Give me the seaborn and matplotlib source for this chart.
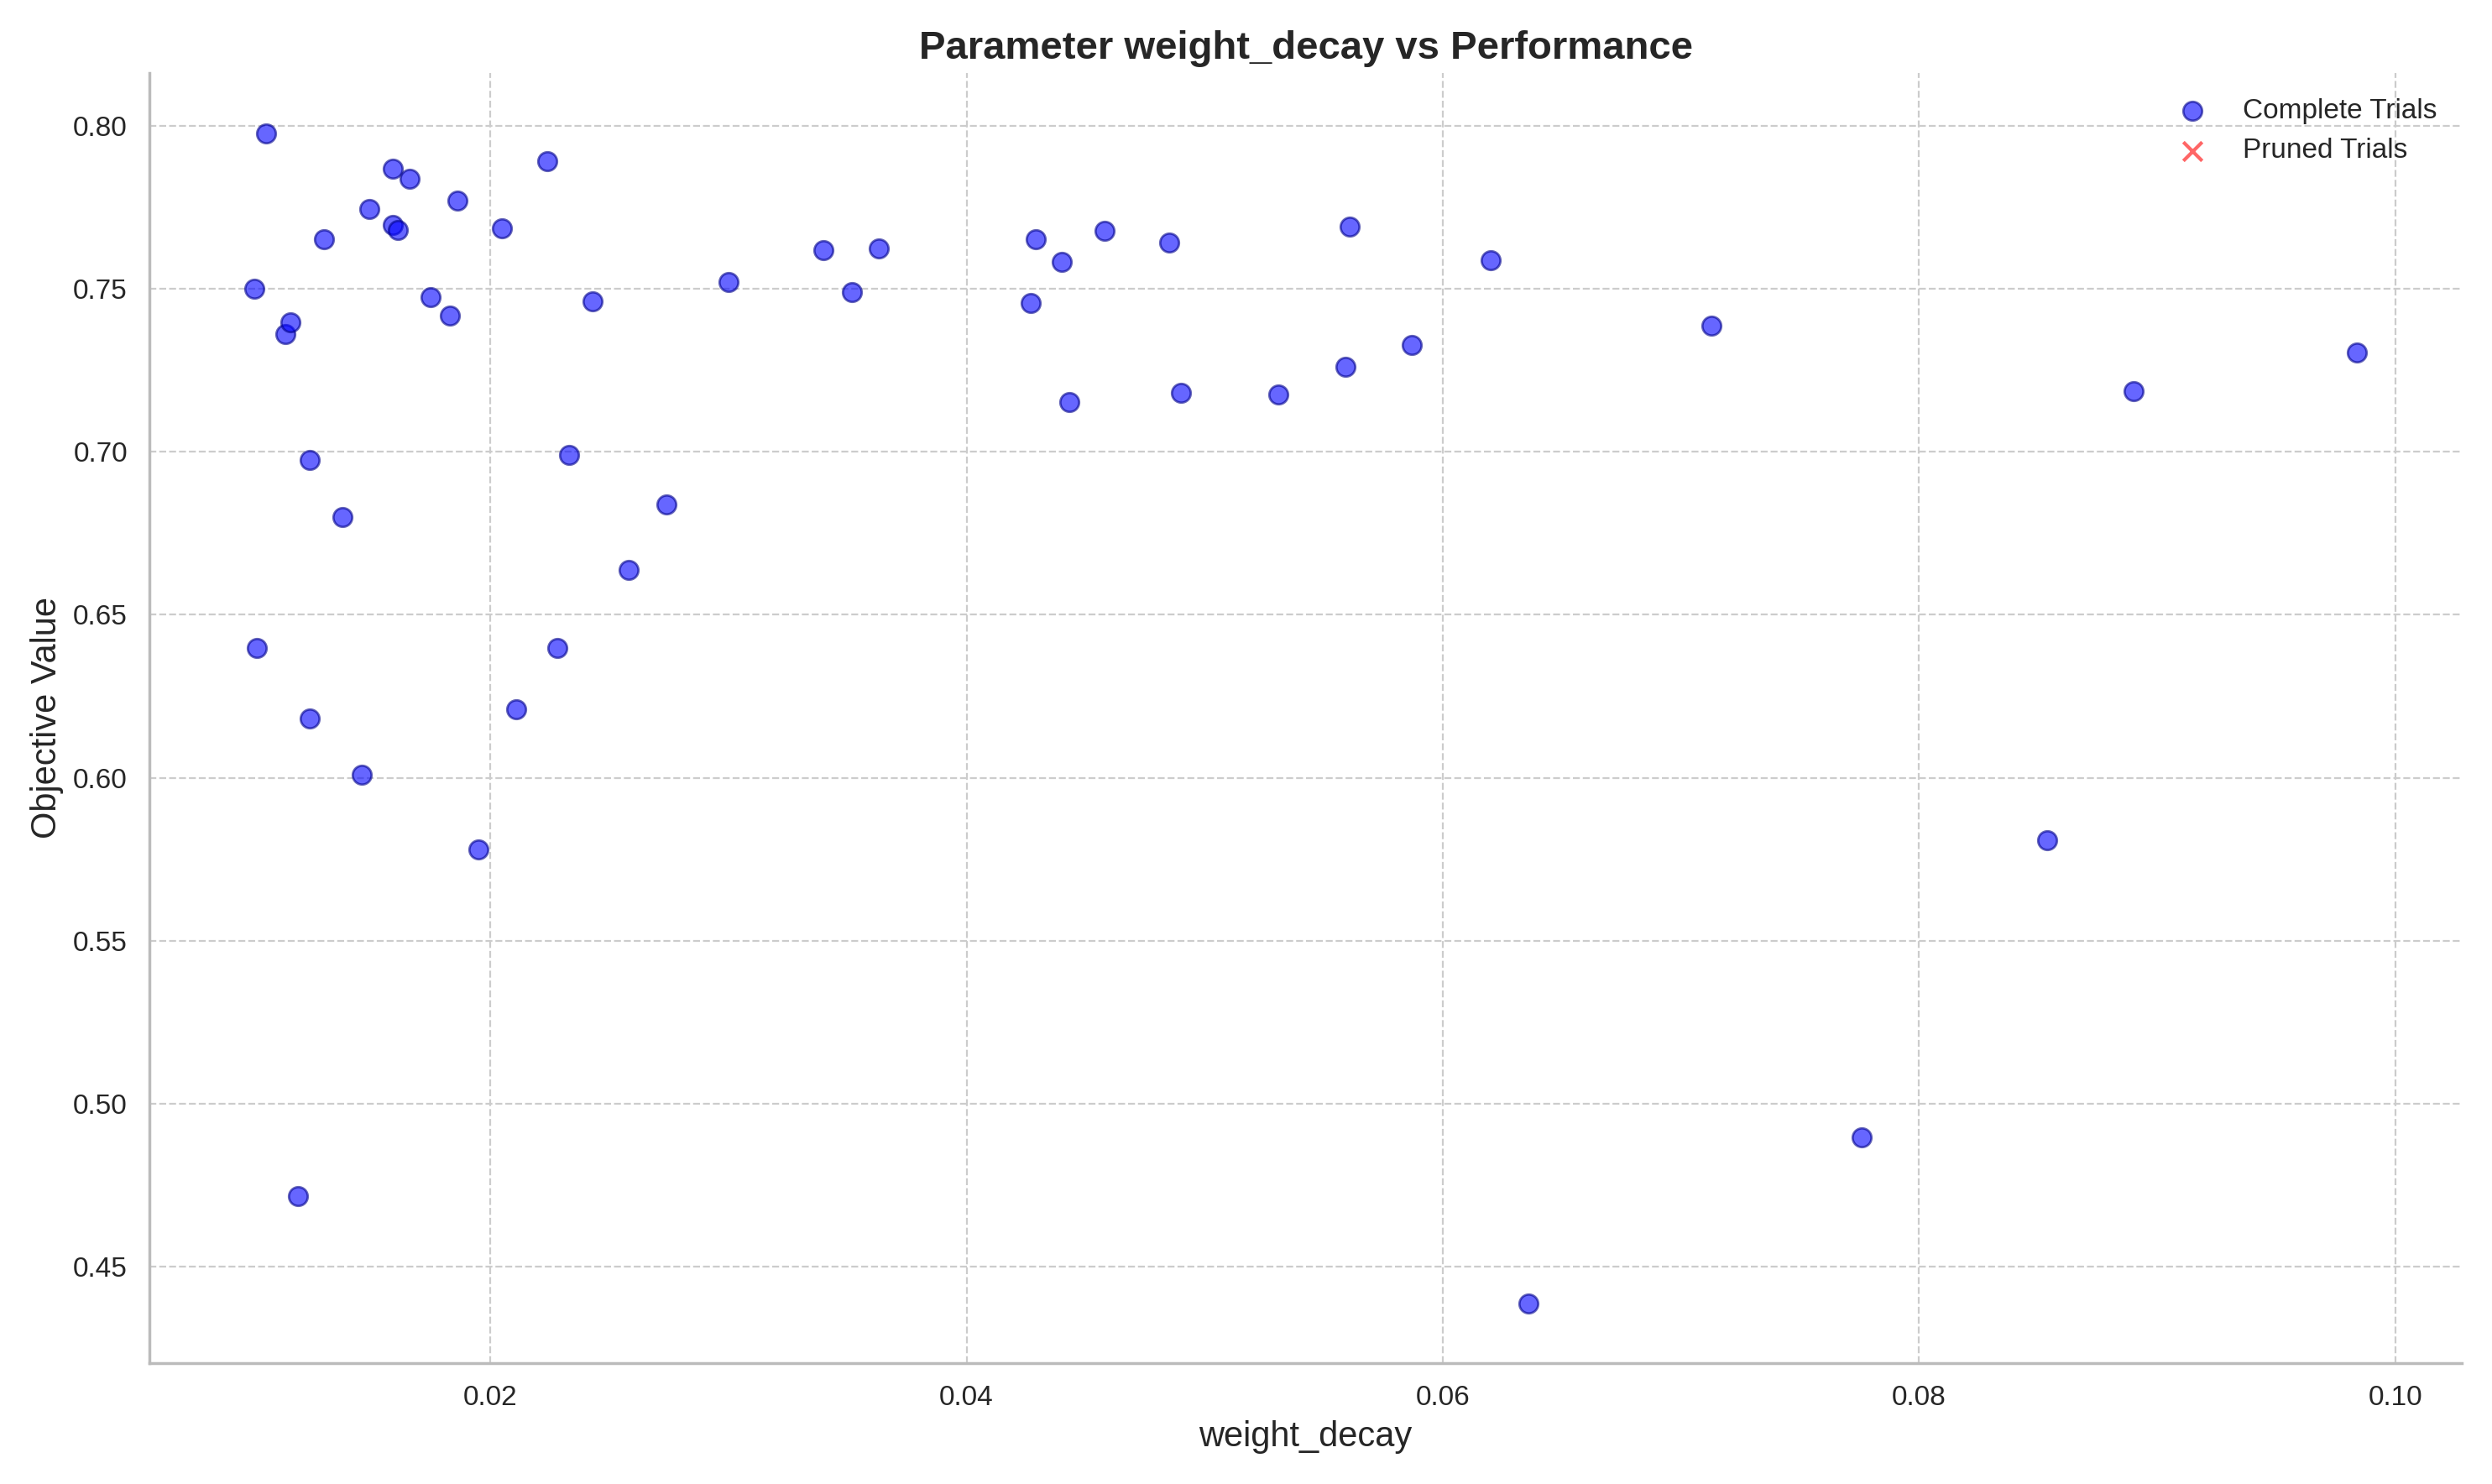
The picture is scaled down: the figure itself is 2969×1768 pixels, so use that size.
import matplotlib
matplotlib.use('Agg')
import matplotlib.pyplot as plt
import seaborn as sns

weight_decay = [0.01057, 0.0101, 0.0102, 0.0114, 0.0116, 0.0119, 0.0124, 0.0124, 0.0130, 0.0138,
                0.0146, 0.0149, 0.0159, 0.0159, 0.0161, 0.0166, 0.0175, 0.0183, 0.0186, 0.0195,
                0.0205, 0.0211, 0.0224, 0.0228, 0.0233, 0.0243, 0.0258, 0.0274, 0.0300, 0.0340,
                0.0352, 0.0363, 0.0427, 0.0429, 0.0440, 0.0443, 0.0458, 0.0485, 0.0490, 0.0531,
                0.0559, 0.0561, 0.0587, 0.0620, 0.0636, 0.0713, 0.0776, 0.0854, 0.0890, 0.0984]
objective = [0.7975, 0.750, 0.6397, 0.736, 0.7397, 0.4716, 0.6975, 0.6181, 0.7652, 0.6799,
             0.601, 0.7745, 0.7868, 0.7696, 0.7681, 0.7838, 0.7475, 0.7417, 0.777, 0.578,
             0.7686, 0.6211, 0.7892, 0.6397, 0.699, 0.7461, 0.6637, 0.6838, 0.752, 0.7618,
             0.749, 0.7623, 0.7456, 0.7652, 0.7583, 0.7152, 0.7676, 0.7642, 0.7181, 0.7176,
             0.726, 0.7691, 0.7328, 0.7588, 0.4387, 0.7387, 0.4897, 0.5809, 0.7186, 0.7304]
pruned_x = []
pruned_y = []

sns.set_theme(style="whitegrid")
plt.rcParams['font.family'] = ['Arial', 'Liberation Sans', 'DejaVu Sans']
fig, ax = plt.subplots(figsize=(14.845, 8.84), dpi=200)

sns.scatterplot(x=weight_decay, y=objective, ax=ax, color='blue', alpha=0.6, s=65,
                edgecolor='darkblue', linewidth=1, label='Complete Trials')
ax.scatter(pruned_x, pruned_y, color='red', marker='x', alpha=0.6, s=65, label='Pruned Trials')

ax.set_xlim(0.00569, 0.1028)
ax.set_ylim(0.4206, 0.8162)
ax.set_title('Parameter weight_decay vs Performance', fontsize=17, fontweight='bold')
ax.set_xlabel('weight_decay', fontsize=15)
ax.set_ylabel('Objective Value', fontsize=15)
ax.tick_params(labelsize=12)
ax.grid(True, linestyle='--', color='#cccccc', linewidth=0.8)
for s in ['top', 'right']:
    ax.spines[s].set_visible(False)
for s in ['left', 'bottom']:
    ax.spines[s].set_color('#bbbbbb')
ax.legend(loc='upper right', frameon=False, fontsize=12)

plt.tight_layout()
plt.savefig('out.png', dpi=200)
